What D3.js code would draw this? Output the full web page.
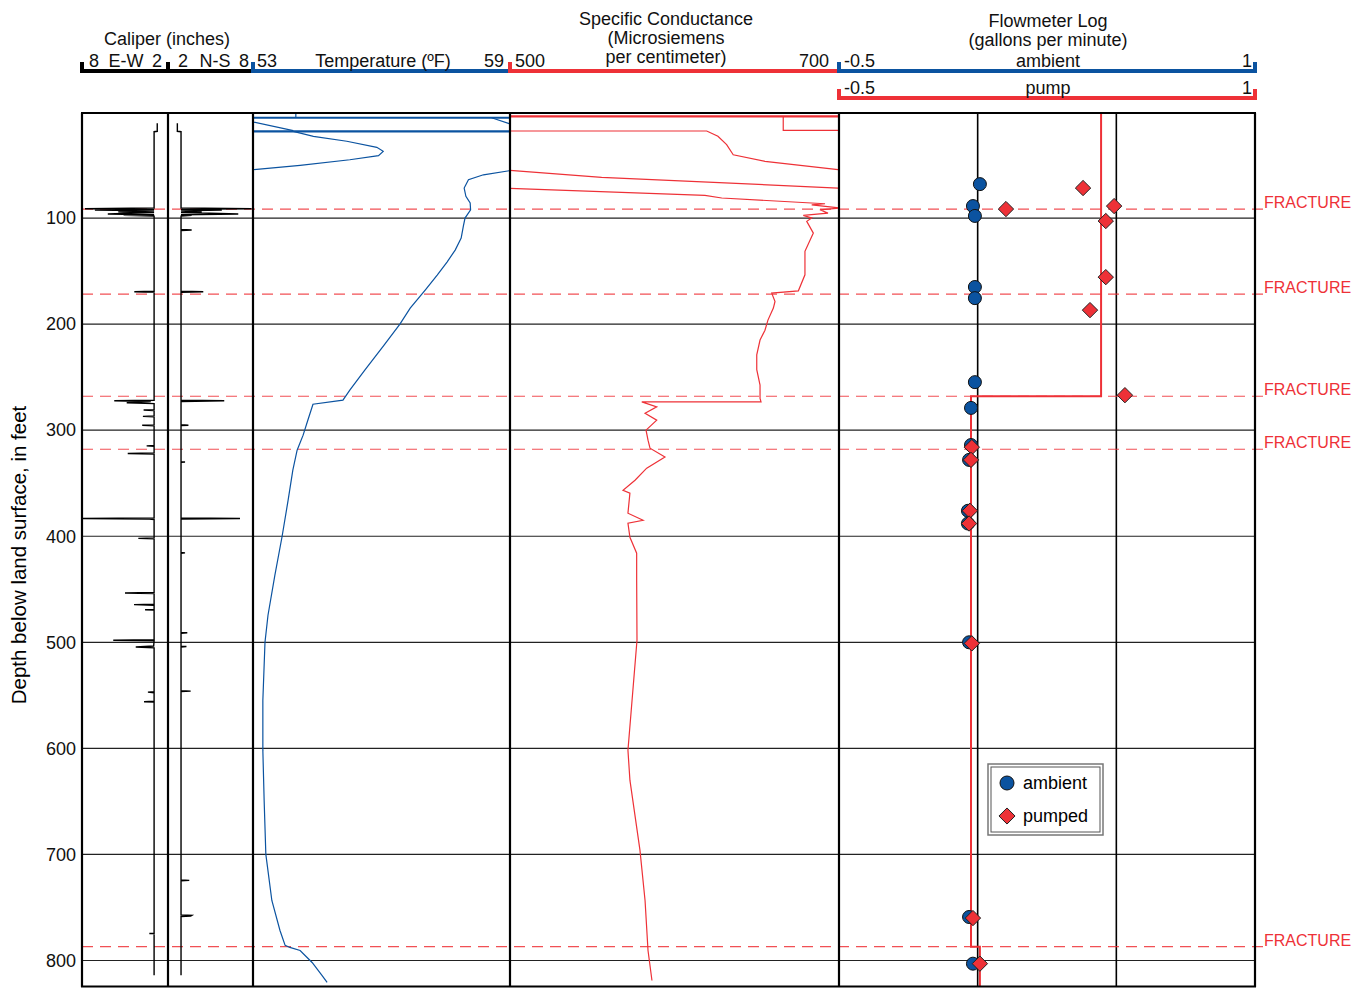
<!DOCTYPE html>
<html>
<head>
<meta charset="utf-8">
<script src="https://cdn.jsdelivr.net/npm/d3@7"></script>
<style>
  body { margin: 0; background: #fff; }
  text { font-family: "Liberation Sans", Arial, sans-serif; }
</style>
</head>
<body>
<svg id="chart"></svg>
<script>
const depthTicks = [100, 200, 300, 400, 500, 600, 700, 800];
const fractureDepths = [91.5, 171.7, 268, 318, 787];

// caliper, [depth ft, inches]
const caliperEW = [
  [10.7,2.75],[18.2,2.75],[18.6,2.97],[90.5,2.97],[91.2,7.79],[91.8,2.97],[92.5,7.1],[93.2,2.97],
  [94,5.47],[94.8,2.97],[96.2,6.2],[96.9,2.97],[97.5,5.1],[98.2,2.97],
  [169,2.97],[169.5,4.35],[170,2.97],
  [271.8,2.97],[272.3,5.75],[273,3.2],[274.2,4.88],[275,2.97],
  [280.6,2.97],[281,3.7],[281.5,2.97],[286.6,2.97],[287,3.75],[287.5,2.97],
  [295,2.97],[295.4,3.8],[295.8,2.97],[314.5,2.97],[314.8,3.49],[315.1,2.97],
  [321.5,2.97],[322,4.81],[322.5,2.97],
  [382.8,2.97],[383.3,7.95],[383.8,3.3],[384.3,2.97],
  [401.5,2.97],[402,4.07],[402.5,2.97],
  [453,2.97],[453.5,5.0],[454,2.97],[464,2.97],[464.5,4.37],[465,2.97],
  [469,2.97],[469.3,3.6],[469.6,2.97],
  [497.5,2.97],[498,5.82],[498.5,2.97],[503.5,3.0],[504.4,4.25],[505.3,2.97],
  [546.5,2.97],[547,3.4],[547.5,2.97],[555.6,2.97],[556,3.67],[556.4,2.97],
  [774.3,2.97],[774.6,3.3],[774.9,2.97],[814,2.97]
];
const caliperNS = [
  [10.7,2.66],[18.2,2.66],[18.6,2.92],[90.5,2.92],[91.2,7.9],[91.8,2.92],[92.5,5.8],[93.2,2.92],
  [94,4.38],[94.8,2.92],[96.2,6.96],[96.9,2.92],[97.5,3.67],[98.2,2.92],
  [110.8,2.92],[111.3,3.67],[111.8,2.92],
  [169,2.92],[169.5,4.49],[170,2.92],
  [271.8,2.92],[272.3,5.97],[272.9,2.92],
  [294.9,2.92],[295.3,3.44],[295.7,2.92],[329.6,2.92],[330,3.2],[330.4,2.92],
  [382.8,2.92],[383.3,7.08],[383.9,2.92],[415.3,2.92],[415.7,3.2],[416.1,2.92],
  [490.6,2.92],[491,3.36],[491.4,2.92],[503.6,2.92],[504,3.3],[504.4,2.92],
  [545.6,2.92],[546,3.6],[546.4,2.92],[724.1,2.92],[724.5,3.5],[724.9,2.92],
  [757,2.92],[757.5,3.67],[758,3.6],[758.5,2.92],[814,2.92]
];

// temperature, [depth ft, deg F]; top of hole wraps off scale
const tempSegments = [
  [[0.9,54.0],[5.4,54.0]],
  [[5.4,58.57],[11,58.98],[11.5,59.3]],
  [[9.4,53.0],[17.6,53.94]],
  [[18.2,53.94],[22.9,54.41],[27.6,55.19],[33.3,55.89],[37.1,56.04],[41.2,55.93],[45,55.26],[50.3,54.10],[54.4,53.0],[54.6,52.9]],
  [[55.4,59.1],[55.4,58.98],[59.2,58.38],[63.9,58.03],[71.7,57.93],[79.5,57.97],[85.8,58.07],[92.2,58.08],
   [100,57.95],[107.8,57.91],[118.9,57.86],[130.2,57.72],[141.5,57.53],[153.8,57.30],[167.9,57.02],
   [184.9,56.67],[200,56.43],[219.8,56.06],[243.4,55.61],[262.3,55.26],[271.7,55.10],[275.5,54.40],
   [290.6,54.28],[304.7,54.17],[318.9,54.03],[337.7,53.93],[366,53.82],[400,53.68],[436.8,53.51],
   [474.5,53.35],[500,53.28],[554.7,53.23],[601.9,53.23],[649,53.26],[700,53.30],[743.4,53.44],
   [771.7,53.63],[785.8,53.75],[787.7,53.86],[790.6,54.10],[801.9,54.38],[814,54.61],[820.7,54.73]]
];
const tempFlatDepths = [5.4, 18.2];

// specific conductance, [depth ft, uS/cm]
const condSegments = [
  [[4.1,666.1],[17.3,666.1],[17.3,705]],
  [[17.9,495],[17.9,619.6],[22.9,626.4],[30.8,631.7],[40.3,635.7],[46.5,655],[54.4,699.4],[54.7,702]],
  [[55,500],[61.6,555.7],[71.7,699.4],[71.8,702]],
  [[72,500],[78.6,618.5],[81.1,628.7],[86.5,691.5],[87.5,683.4],[90.6,701],[92.2,688.4],[95.3,693.3],
   [97.5,678.3],[100,683.4],[103.1,680.4],[114.2,684.4],[131.4,679.3],[153.5,679.3],[168.6,675.3],
   [170.8,659.1],[178.6,661.1],[184.9,660.1],[196.2,656.8],[205.7,655],[215,652],[229,650],[243,650],
   [257.5,652],[270,652],[273.3,652.6],[273.3,580.1],[278,589.2],[284,582.1],[290.6,589.2],[300,582.7],
   [309.4,583.9],[317,585.1],[325.2,594.2],[335.8,583.1],[347.2,576],[356.6,568.7],[359.4,572.9],
   [378.3,571.7],[384.9,580.9],[387.7,571.7],[401,572.9],[416,577],[441.5,577],[498,577.2],[554.7,574.2],
   [601.9,571.7],[630,572.9],[696,579],[743.4,582.1],[790.6,583.9],[818.9,586.3]]
];
const condFlatDepths = [4.1];

// flowmeter, [depth ft, gal/min]
const ambientFlow = [
  [68,0.008],[88.7,-0.017],[98,-0.010],[165,-0.010],[175.5,-0.010],[254.7,-0.010],[279,-0.024],
  [314,-0.024],[328,-0.031],[376,-0.035],[388,-0.035],[500,-0.031],[759,-0.031],[803,-0.017]
];
const pumpedFlow = [
  [71.7,0.380],[91.5,0.102],[88.7,0.492],[102.8,0.462],[155.7,0.462],[186.8,0.405],[267,0.531],
  [316,-0.021],[328,-0.024],[376,-0.028],[388,-0.031],[501,-0.021],[760,-0.017],[803,0.008]
];
const pumpedProfile = [[0,0.445],[268,0.445],[268,-0.024],[787,-0.024],[787,0.008],[825,0.008]];

// ---- drawing ----
const width = 1369, height = 988;
const plotTop = 113, plotBottom = 987;
const blue = "#0b53a0", red = "#ee3137";

const svg = d3.select("#chart").attr("width", width).attr("height", height);

const y = d3.scaleLinear().domain([0, 825]).range([112, 987]);
const xEW = d3.scaleLinear().domain([8, 2]).range([82, 168]);
const xNS = d3.scaleLinear().domain([2, 8]).range([168, 253]);
const xT = d3.scaleLinear().domain([53, 59]).range([253, 510]);
const xC = d3.scaleLinear().domain([500, 700]).range([510, 839]);
const xF = d3.scaleLinear().domain([-0.5, 1]).range([839, 1255]);
const plotLeft = xEW.range()[0], plotRight = xF.range()[1];

const defs = svg.append("defs");
function clip(id, x0, x1) {
  defs.append("clipPath").attr("id", id)
    .append("rect").attr("x", x0).attr("y", plotTop).attr("width", x1 - x0).attr("height", plotBottom - plotTop);
  return `url(#${id})`;
}

// depth grid
svg.append("g").selectAll("line").data(depthTicks).join("line")
  .attr("x1", plotLeft).attr("x2", plotRight)
  .attr("y1", d => y(d)).attr("y2", d => y(d))
  .attr("stroke", "#222").attr("stroke-width", 1.2);

// flowmeter reference lines at 0 and 0.5
svg.append("g").selectAll("line").data([0, 0.5]).join("line")
  .attr("x1", d => xF(d)).attr("x2", d => xF(d))
  .attr("y1", plotTop).attr("y2", plotBottom)
  .attr("stroke", "#000").attr("stroke-width", 1.6);

// fracture lines
const frac = svg.append("g");
frac.selectAll("line").data(fractureDepths).join("line")
  .attr("x1", plotLeft).attr("x2", 1263)
  .attr("y1", d => y(d)).attr("y2", d => y(d))
  .attr("stroke", red).attr("stroke-opacity", 0.85).attr("stroke-width", 1.2)
  .attr("stroke-dasharray", "11,7");
frac.selectAll("text").data(fractureDepths).join("text")
  .attr("x", 1264).attr("y", d => y(d) - 1)
  .attr("fill", red).attr("font-size", 16).text("FRACTURE");

// caliper
const calG = svg.append("g").attr("clip-path", clip("cCal", 82, 253));
calG.append("path").datum(caliperEW)
  .attr("d", d3.line().x(d => xEW(d[1])).y(d => y(d[0])))
  .attr("fill", "none").attr("stroke", "#000").attr("stroke-width", 1.4);
calG.append("path").datum(caliperNS)
  .attr("d", d3.line().x(d => xNS(d[1])).y(d => y(d[0])))
  .attr("fill", "none").attr("stroke", "#000").attr("stroke-width", 1.4);

// temperature
const tG = svg.append("g").attr("clip-path", clip("cT", 253, 510));
tG.selectAll("path").data(tempSegments).join("path")
  .attr("d", d3.line().x(d => xT(d[1])).y(d => y(d[0])))
  .attr("fill", "none").attr("stroke", blue).attr("stroke-width", 1.2);
tG.selectAll("line").data(tempFlatDepths).join("line")
  .attr("x1", 253).attr("x2", 510).attr("y1", d => y(d)).attr("y2", d => y(d))
  .attr("stroke", blue).attr("stroke-width", 2.2);

// conductance
const cG = svg.append("g").attr("clip-path", clip("cC", 510, 839));
cG.selectAll("path").data(condSegments).join("path")
  .attr("d", d3.line().x(d => xC(d[1])).y(d => y(d[0])))
  .attr("fill", "none").attr("stroke", red).attr("stroke-width", 1.2);
cG.selectAll("line").data(condFlatDepths).join("line")
  .attr("x1", 510).attr("x2", 839).attr("y1", d => y(d)).attr("y2", d => y(d))
  .attr("stroke", red).attr("stroke-width", 2.4);

// flowmeter
const fG = svg.append("g").attr("clip-path", clip("cF", 839, 1255));
fG.append("path").datum(pumpedProfile)
  .attr("d", d3.line().x(d => xF(d[1])).y(d => y(d[0])))
  .attr("fill", "none").attr("stroke", red).attr("stroke-width", 2);
fG.selectAll("circle").data(ambientFlow).join("circle")
  .attr("cx", d => xF(d[1])).attr("cy", d => y(d[0])).attr("r", 6.5)
  .attr("fill", blue).attr("stroke", "#111").attr("stroke-width", 1);
const diamond = d3.symbol().type(d3.symbolDiamond2).size(150);
fG.selectAll("path.pumped").data(pumpedFlow).join("path").attr("class", "pumped")
  .attr("d", diamond)
  .attr("transform", d => `translate(${xF(d[1])},${y(d[0])})`)
  .attr("fill", red).attr("stroke", "#222").attr("stroke-width", 1);

// track frames
svg.append("g").selectAll("line").data([82, 168, 253, 510, 839, 1255]).join("line")
  .attr("x1", d => d).attr("x2", d => d).attr("y1", plotTop).attr("y2", plotBottom)
  .attr("stroke", "#000").attr("stroke-width", 2.2);
svg.append("g").selectAll("line").data([plotTop, plotBottom - 0.5]).join("line")
  .attr("x1", plotLeft - 1).attr("x2", plotRight + 1).attr("y1", d => d).attr("y2", d => d)
  .attr("stroke", "#000").attr("stroke-width", 2.2);

// legend
const lg = svg.append("g").attr("transform", "translate(988,764)");
lg.append("rect").attr("width", 115).attr("height", 71).attr("fill", "#fff")
  .attr("stroke", "#777").attr("stroke-width", 1.5);
lg.append("rect").attr("x", 3).attr("y", 3).attr("width", 109).attr("height", 65).attr("fill", "none")
  .attr("stroke", "#555").attr("stroke-width", 1);
lg.append("circle").attr("cx", 19).attr("cy", 19).attr("r", 7)
  .attr("fill", blue).attr("stroke", "#111");
lg.append("path").attr("d", d3.symbol().type(d3.symbolDiamond2).size(165)).attr("transform", "translate(19,52)")
  .attr("fill", red).attr("stroke", "#222");
lg.append("text").attr("x", 35).attr("y", 25).attr("font-size", 18).text("ambient");
lg.append("text").attr("x", 35).attr("y", 58).attr("font-size", 18).text("pumped");

// depth axis
const yAxis = svg.append("g").attr("transform", `translate(${plotLeft},0)`)
  .call(d3.axisLeft(y).tickValues(depthTicks).tickSize(0).tickPadding(6));
yAxis.select(".domain").remove();
yAxis.selectAll("text").attr("font-size", 18).attr("fill", "#111")
  .style("font-family", '"Liberation Sans", Arial, sans-serif');
svg.append("text")
  .attr("transform", "translate(26,555) rotate(-90)")
  .attr("text-anchor", "middle").attr("font-size", 20.5).text("Depth below land surface, in feet");

// header scale bars
const head = svg.append("g");
function bar(x0, x1, yb, color) {
  head.append("line").attr("x1", x0).attr("x2", x1).attr("y1", yb).attr("y2", yb)
    .attr("stroke", color).attr("stroke-width", 4);
  [x0, x1].forEach(x => head.append("rect").attr("x", x - 2).attr("y", yb - 9)
    .attr("width", 4).attr("height", 11).attr("fill", color));
}
function label(x, yb, txt, anchor, size) {
  head.append("text").attr("x", x).attr("y", yb).attr("text-anchor", anchor || "middle")
    .attr("font-size", size || 18).attr("fill", "#111").text(txt);
}
bar(xEW.range()[0], xEW.range()[1], 71, "#000");
bar(xNS.range()[0], xNS.range()[1], 71, "#000");
bar(xT.range()[0], xT.range()[1], 71, blue);
bar(xC.range()[0], xC.range()[1], 71, red);
bar(xF.range()[0], xF.range()[1], 71, blue);
bar(xF.range()[0], xF.range()[1], 98, red);

label(167, 45, "Caliper (inches)");
label(89, 67, "8", "start"); label(126, 67, "E-W"); label(162, 67, "2", "end");
label(178, 67, "2", "start"); label(215, 67, "N-S"); label(249, 67, "8", "end");
label(257, 67, "53", "start"); label(383, 67, "Temperature (ºF)"); label(504, 67, "59", "end");
label(515, 67, "500", "start"); label(829, 67, "700", "end");
label(666, 25, "Specific Conductance"); label(666, 44, "(Microsiemens"); label(666, 63, "per centimeter)");
label(1048, 27, "Flowmeter Log"); label(1048, 46, "(gallons per minute)");
label(844, 67, "-0.5", "start"); label(1048, 67, "ambient"); label(1252, 67, "1", "end");
label(844, 94, "-0.5", "start"); label(1048, 94, "pump"); label(1252, 94, "1", "end");
</script>
</body>
</html>
